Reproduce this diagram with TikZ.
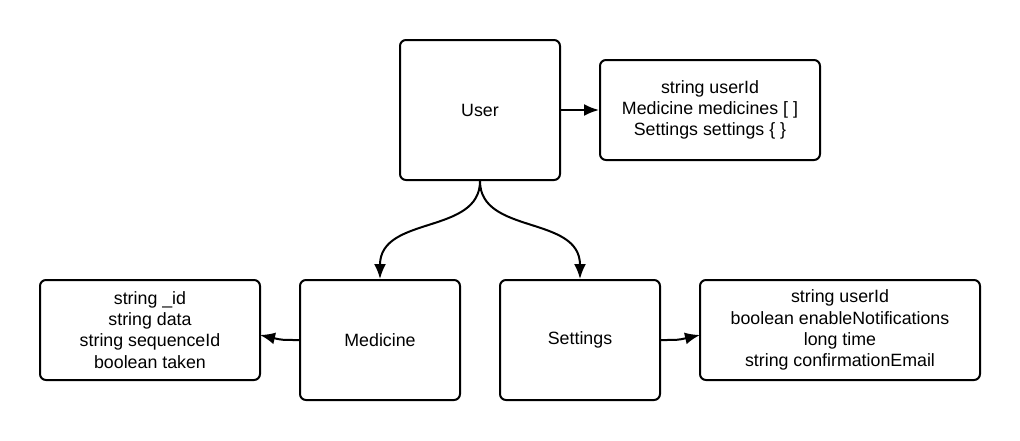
\documentclass[tikz,border=0pt]{standalone}
\usepackage{fontspec}
\setmainfont{Liberation Sans}
\usetikzlibrary{arrows.meta}
\begin{document}
\begin{tikzpicture}[x=1pt,y=-1pt,
  box/.style={draw,line width=2pt,rounded corners=6pt,inner sep=0pt,font=\fontsize{17.8}{21.2}\selectfont,align=center},
  conn/.style={line width=2pt,-{Latex[length=15pt,width=12pt]}}]
\useasboundingbox (0,0) rectangle (1020,440);
\node[box,minimum width=160pt,minimum height=140pt] (user) at (480,110) {User};
\node[box,minimum width=220pt,minimum height=100pt] (uinfo) at (710,110) {string userId\\Medicine medicines [ ]\\Settings settings \{ \}};
\node[box,minimum width=160pt,minimum height=120pt] (med) at (380,340) {Medicine};
\node[box,minimum width=160pt,minimum height=120pt] (set) at (580,340) {Settings};
\node[box,minimum width=220pt,minimum height=100pt] (minfo) at (150,330) {string \_id\\string data\\string sequenceId\\boolean taken};
\node[box,minimum width=280pt,minimum height=100pt] (sinfo) at (840,330) {string userId\\boolean enableNotifications\\long time\\string confirmationEmail};
\draw[conn] (user.east) -- (uinfo.west);
\draw[conn] (user.south) .. controls (480,235) and (380,215) .. (med.north);
\draw[conn] (user.south) .. controls (480,235) and (580,215) .. (set.north);
\coordinate (ml) at (med.west);
\coordinate (mt) at (260,335);
\draw[conn] (ml) .. controls (282,340) .. (mt);
\coordinate (sr) at (set.east);
\coordinate (st) at (700,335);
\draw[conn] (sr) .. controls (678,340) .. (st);
\end{tikzpicture}
\end{document}
